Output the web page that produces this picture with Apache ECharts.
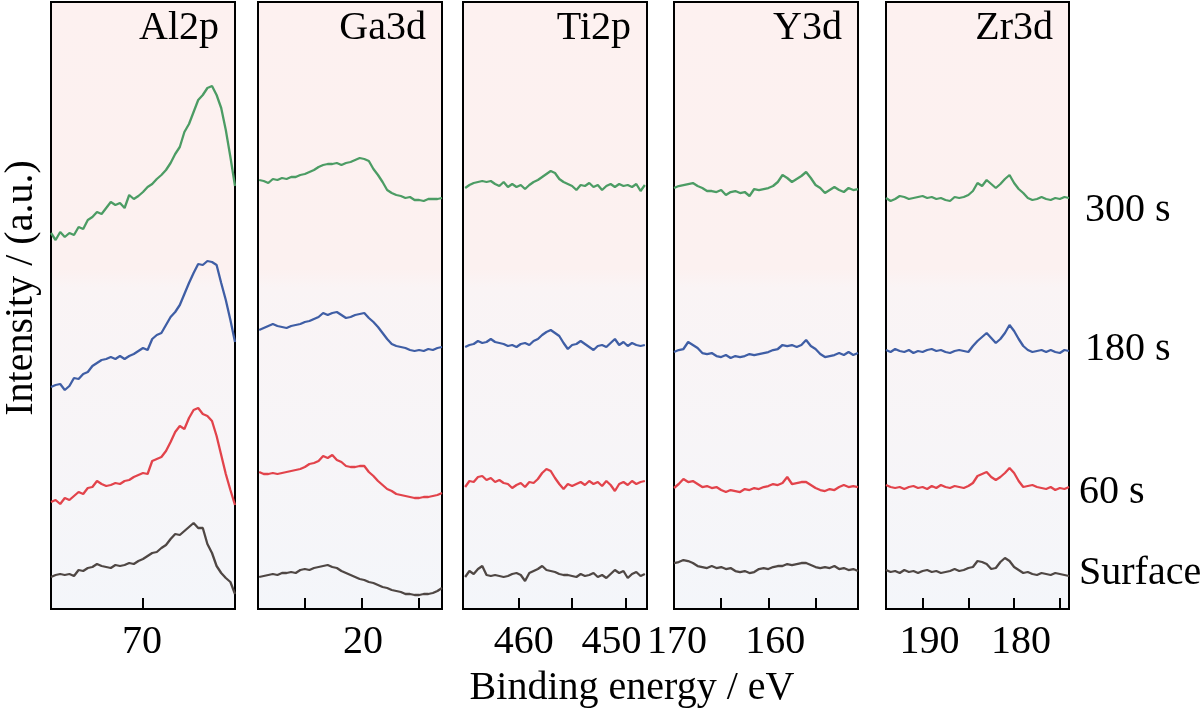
<!DOCTYPE html>
<html>
<head>
<meta charset="utf-8">
<script src="https://cdn.jsdelivr.net/npm/echarts@6/dist/echarts.min.js"></script>
<style>html,body{margin:0;padding:0;background:#fff}#c{width:1200px;height:711px}</style>
</head>
<body>
<div id="c"></div>
<script>
// ---------- DATA (binding energy in eV, intensity in arbitrary units incl. stacking offset) ----------
const panelNames = ['Al2p', 'Ga3d', 'Ti2p', 'Y3d', 'Zr3d'];
const seriesNames = ['Surface', '60 s', '180 s', '300 s'];

const alE = [80,79.5,79,78.5,78,77.5,77,76.5,76,75.5,75,74.5,74,73.5,73,72.5,72,71.5,71,70.5,70,69.5,69,68.5,68,67.5,67,66.5,66,65.5,65,64.5,64,63.5,63,62.5,62,61.5,61,60.5,60];
const alGray  = [32,34,35,34,35,33,39,38,41,42,45,43,42,41,44,43,44,46,45,48,50,53,56,57,61,64,70,75,74,78,82,86,81,81,65,56,43,36,31,27,15];
const alRed   = [107,109,105,111,109,113,117,115,121,122,128,125,123,124,126,125,128,129,132,134,136,135,148,150,152,158,167,177,183,180,191,199,201,195,193,188,173,154,135,119,104];
const alBlue  = [222,224,225,219,223,231,230,235,237,243,246,249,250,252,250,253,250,253,255,258,261,259,270,274,276,284,292,297,304,315,326,336,345,344,348,347,344,326,309,289,267];
const alGreen = [376,369,377,372,376,374,382,380,389,392,397,395,401,407,404,406,401,414,410,413,417,422,425,430,434,439,446,455,462,477,485,497,509,514,521,523,514,501,479,452,423];

const gaE = [29.0,28.6,28.2,27.8,27.4,27.0,26.6,26.2,25.8,25.4,25.0,24.6,24.2,23.8,23.4,23.0,22.6,22.2,21.8,21.4,21.0,20.6,20.2,19.8,19.4,19.0,18.6,18.2,17.8,17.4,17.0,16.6,16.2,15.8,15.4,15.0,14.6,14.2,13.8,13.4,13.0];
const gaGray  = [32,33,34,35,34,36,36,37,36,39,40,39,41,42,43,44,42,41,38,36,34,32,30,29,27,26,24,22,21,19,18,17,15,15,14,14,15,15,16,18,21];
const gaRed   = [137,135,135,136,135,136,137,138,139,140,142,145,146,148,153,151,154,149,147,143,142,142,143,143,137,133,128,124,120,118,115,114,113,112,111,111,112,112,113,114,116];
const gaBlue  = [279,281,283,285,283,282,281,283,284,285,287,288,290,292,296,294,296,297,294,291,292,294,295,296,291,287,282,276,270,265,263,262,261,259,258,259,258,260,259,261,262];
const gaGreen = [429,428,426,430,429,431,430,432,432,434,435,437,439,442,444,445,445,446,444,446,447,449,451,450,448,440,434,427,419,416,414,413,411,412,409,409,408,410,410,410,411];

const tiE = [465.0,464.6,464.2,463.8,463.4,463.0,462.6,462.2,461.8,461.4,461.0,460.6,460.2,459.8,459.4,459.0,458.6,458.2,457.8,457.4,457.0,456.6,456.2,455.8,455.4,455.0,454.6,454.2,453.8,453.4,453.0,452.6,452.2,451.8,451.4,451.0,450.6,450.2,449.8,449.4,449.0,448.6,448.2];
const tiGray  = [32,38,35,40,43,34,33,34,33,32,33,35,36,34,28,36,38,40,43,39,38,37,35,34,34,33,32,35,33,34,36,32,34,31,35,39,36,38,31,35,37,33,35];
const tiRed   = [122,128,127,132,133,129,131,127,129,126,125,121,124,126,122,127,126,130,136,140,138,131,125,120,125,123,125,127,124,128,125,127,123,128,124,118,125,127,124,128,125,127,128];
const tiBlue  = [262,264,265,268,266,267,270,267,266,265,263,264,262,265,266,264,268,270,274,277,279,276,273,266,260,264,265,268,265,262,259,263,264,262,266,270,264,267,263,266,264,263,264];
const tiGreen = [421,424,426,427,428,427,428,425,423,427,422,425,422,424,420,424,427,429,432,435,438,436,430,427,425,423,419,424,423,426,422,424,419,423,425,422,425,423,424,422,425,418,424];

const yE = [170,169.5,169,168.5,168,167.5,167,166.5,166,165.5,165,164.5,164,163.5,163,162.5,162,161.5,161,160.5,160,159.5,159,158.5,158,157.5,157,156.5,156,155.5,155,154.5,154,153.5,153,152.5,152,151.5,151,150.5];
const yGray  = [46,47,49,48,46,43,42,41,43,41,42,40,41,38,37,38,36,37,40,41,40,42,43,43,45,44,45,46,46,44,42,41,42,41,43,40,41,39,40,38];
const yRed   = [121,125,130,127,128,125,122,123,121,122,119,117,119,118,117,120,119,121,120,122,123,125,124,126,132,125,126,127,127,124,121,119,118,120,119,122,124,122,123,122];
const yBlue  = [257,259,260,267,264,261,256,255,256,253,252,254,251,253,252,253,255,254,255,256,257,259,260,264,263,264,262,264,269,263,260,255,252,253,254,256,254,257,254,256];
const yGreen = [421,423,424,425,426,423,421,418,418,417,419,414,417,418,416,417,413,420,419,420,421,423,427,434,431,427,430,433,437,431,424,421,416,419,422,419,417,421,419,420];

const zrE = [194,193.5,193,192.5,192,191.5,191,190.5,190,189.5,189,188.5,188,187.5,187,186.5,186,185.5,185,184.5,184,183.5,183,182.5,182,181.5,181,180.5,180,179.5,179,178.5,178,177.5,177,176.5,176,175.5,175,174.5,174];
const zrGray  = [39,37,38,36,39,37,38,36,38,39,37,38,36,37,38,40,38,39,41,42,48,47,45,40,41,47,51,48,42,39,36,37,35,34,36,35,34,36,35,34,33];
const zrRed   = [124,122,121,122,120,122,123,121,122,120,123,121,124,122,121,123,122,121,123,126,133,135,137,132,129,132,136,141,136,128,122,123,124,122,121,120,122,119,121,120,122];
const zrBlue  = [259,257,260,258,257,259,256,258,257,259,260,258,259,257,256,258,259,258,257,263,268,272,276,271,266,270,276,284,278,270,263,259,257,258,259,257,259,257,256,259,258];
const zrGreen = [411,408,410,413,412,410,411,412,413,411,412,410,411,409,408,412,411,412,414,418,426,423,429,425,421,425,430,434,426,420,416,411,409,410,412,410,409,411,410,412,411];

// axis ranges and tick labels
const xRanges = [[60, 80], [13, 29.1], [448, 465.2], [150.5, 170], [174, 194]];
const tickValues = [[60, 70, 80], [15, 20, 25], [450, 455, 460], [155, 160, 165, 170], [175, 180, 185, 190]];
const labelValues = [[70], [20], [450, 460], [160, 170], [180, 190]];

const panelData = [
  { e: alE, s: [alGray, alRed, alBlue, alGreen] },
  { e: gaE, s: [gaGray, gaRed, gaBlue, gaGreen] },
  { e: tiE, s: [tiGray, tiRed, tiBlue, tiGreen] },
  { e: yE,  s: [yGray, yRed, yBlue, yGreen] },
  { e: zrE, s: [zrGray, zrRed, zrBlue, zrGreen] }
];

// ---------- STYLE / LAYOUT ----------
const colors = ['#4f4744', '#e2434b', '#3f5ea5', '#4c9c64'];
const FONT = 'Liberation Serif';
const FS = 40;
const panelLeft = [51, 258, 463, 674, 886];
const panelWidth = [184, 184, 184, 184, 183];
const gridTop = 2, gridHeight = 607;
// horizontal nudges of individual tick labels (px), as placed in the original figure
const labelNudge = { 450: -14, 170: 3, 460: 5, 160: 7, 190: 7, 180: 7, 70: -1, 20: 1 };

const bg = {
  type: 'linear', x: 0, y: 0, x2: 0, y2: 1,
  colorStops: [
    { offset: 0, color: '#fdf1f0' },
    { offset: 0.44, color: '#fcf1f0' },
    { offset: 0.47, color: '#faf4f5' },
    { offset: 1, color: '#f4f6fa' }
  ]
};

const grids = [], xAxes = [], yAxes = [], series = [], graphics = [];
panelData.forEach((p, i) => {
  grids.push({
    left: panelLeft[i], top: gridTop, width: panelWidth[i], height: gridHeight,
    show: true, backgroundColor: bg, borderColor: '#000', borderWidth: 2
  });
  const rich = {};
  labelValues[i].forEach(v => {
    const d = labelNudge[v] || 0;
    rich['v' + v] = {
      fontFamily: FONT, fontSize: FS, color: '#000',
      padding: d >= 0 ? [0, 0, 0, 2 * d] : [0, -2 * d, 0, 0]
    };
  });
  xAxes.push({
    type: 'value', gridIndex: i, inverse: true,
    min: xRanges[i][0], max: xRanges[i][1],
    splitLine: { show: false },
    axisLine: { show: true, lineStyle: { color: '#000', width: 2 } },
    axisTick: { show: true, inside: true, length: 11, customValues: tickValues[i], lineStyle: { color: '#000', width: 2 } },
    axisLabel: {
      show: true, customValues: labelValues[i], margin: 13, color: '#000', fontFamily: FONT, fontSize: FS,
      formatter: v => '{v' + v + '|' + v + '}', rich: rich
    }
  });
  yAxes.push({
    type: 'value', gridIndex: i, min: 0, max: 607,
    show: false, splitLine: { show: false }
  });
  p.s.forEach((vals, j) => {
    series.push({
      name: seriesNames[j], type: 'line', xAxisIndex: i, yAxisIndex: i,
      showSymbol: false, symbol: 'none', silent: true,
      lineStyle: { color: colors[j], width: 2.3 },
      data: p.e.map((e, k) => [e, vals[k]])
    });
  });
  graphics.push({
    type: 'text', x: panelLeft[i] + panelWidth[i] - 16, y: 28,
    style: { text: panelNames[i], fill: '#000', font: FS + 'px "' + FONT + '"', textAlign: 'right', textVerticalAlign: 'middle' }
  });
});

const sideLabels = [['300 s', 1085, 210], ['180 s', 1085, 349], ['60 s', 1079, 492], ['Surface', 1079, 573]];
sideLabels.forEach(l => {
  graphics.push({
    type: 'text', x: l[1], y: l[2],
    style: { text: l[0], fill: '#000', font: FS + 'px "' + FONT + '"', textAlign: 'left', textVerticalAlign: 'middle' }
  });
});
graphics.push({
  type: 'text', x: 21, y: 288, rotation: Math.PI / 2,
  style: { text: 'Intensity / (a.u.)', fill: '#000', font: FS + 'px "' + FONT + '"', textAlign: 'center', textVerticalAlign: 'middle' }
});
graphics.push({
  type: 'text', x: 632, y: 688,
  style: { text: 'Binding energy / eV', fill: '#000', font: FS + 'px "' + FONT + '"', textAlign: 'center', textVerticalAlign: 'middle' }
});

const chart = echarts.init(document.getElementById('c'), null, { renderer: 'canvas' });
chart.setOption({
  animation: false,
  backgroundColor: '#fff',
  grid: grids, xAxis: xAxes, yAxis: yAxes, series: series,
  graphic: graphics
});
</script>
</body>
</html>
